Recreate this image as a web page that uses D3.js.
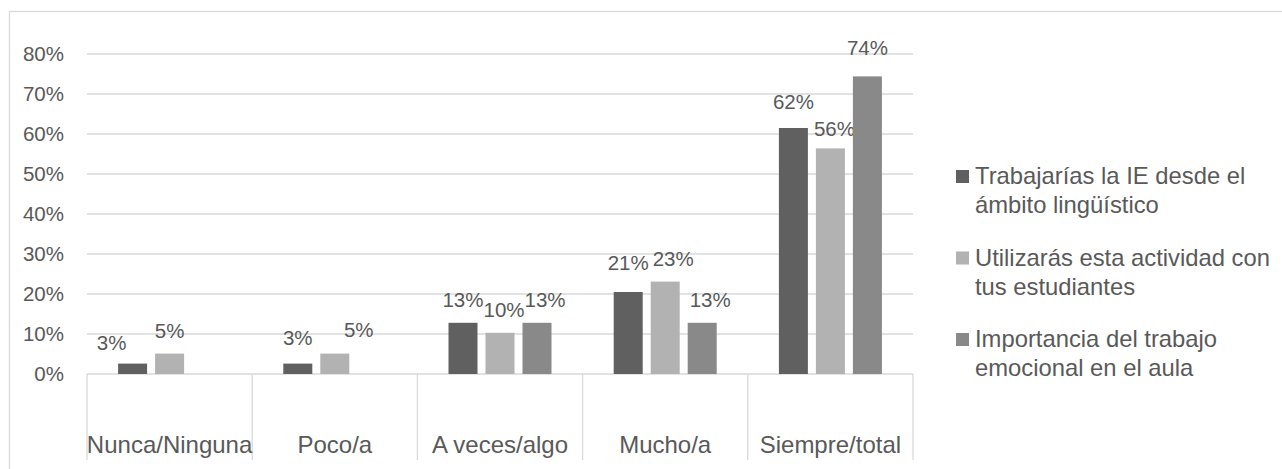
<!DOCTYPE html>
<html>
<head>
<meta charset="utf-8">
<script src="https://cdn.jsdelivr.net/npm/d3@7"></script>
<style>
  body { margin: 0; background: #fff; }
  text { font-family: "Liberation Sans", Arial, sans-serif; fill: #595959; }
</style>
</head>
<body>
<script>
// chart data
var categories = ["Nunca/Ninguna", "Poco/a", "A veces/algo", "Mucho/a", "Siempre/total"];
var seriesNames = [
  ["Trabajarías la IE desde el", "ámbito lingüístico"],
  ["Utilizarás esta actividad con", "tus estudiantes"],
  ["Importancia del trabajo", "emocional en el aula"]
];
var trabajarias = [0.026, 0.026, 0.128, 0.205, 0.615];
var utilizaras  = [0.051, 0.051, 0.103, 0.231, 0.564];
var importancia = [0, 0, 0.128, 0.128, 0.744];
var yTicks = [0, 0.1, 0.2, 0.3, 0.4, 0.5, 0.6, 0.7, 0.8];

var colors = ["#606060", "#b2b2b2", "#898989"];
// small label nudges (Excel moved a few labels aside), key = category-series
var nudge = {
  "0-0": [-21, 2], "1-0": [0, -3], "1-1": [24, -1],
  "2-1": [4, 0], "2-2": [8, 0],
  "3-0": [0, -6], "3-1": [8, 0], "3-2": [8, 0],
  "4-0": [0, -3], "4-1": [4, 4], "4-2": [0, -5]
};

var W = 1282, H = 469;
var plot = { left: 87, right: 913, top: 54, bottom: 374 };

var svg = d3.select("body").append("svg")
  .attr("width", W)
  .attr("height", H);

// outer chart border
svg.append("rect")
  .attr("x", 9.5).attr("y", 11.5)
  .attr("width", W).attr("height", H)
  .attr("fill", "none")
  .attr("stroke", "#d9d9d9")
  .attr("stroke-width", 1.3);

var x0 = d3.scaleBand()
  .domain(categories)
  .range([plot.left, plot.right]);

var groupW = x0.bandwidth() * 0.6235;
var x1 = d3.scaleBand()
  .domain([0, 1, 2])
  .range([0, groupW])
  .paddingInner(8 / 37);

var y = d3.scaleLinear()
  .domain([0, 0.8])
  .range([plot.bottom, plot.top]);

// gridlines
svg.append("g")
  .selectAll("line")
  .data(yTicks)
  .enter().append("line")
  .attr("x1", plot.left)
  .attr("x2", plot.right)
  .attr("y1", function(d) { return y(d); })
  .attr("y2", function(d) { return y(d); })
  .attr("stroke", "#d9d9d9")
  .attr("stroke-width", 1.3);

// y axis labels
var yAxis = d3.axisLeft(y)
  .tickValues(yTicks)
  .tickFormat(d3.format(".0%"))
  .tickSize(0)
  .tickPadding(23);

svg.append("g")
  .attr("transform", "translate(" + plot.left + ",0)")
  .call(yAxis)
  .call(function(g) { g.select(".domain").remove(); })
  .selectAll("text")
  .style("font-size", "20.5px")
  .attr("fill", "#595959")
  .style("font-family", "'Liberation Sans', Arial, sans-serif");

// category separators
var bounds = categories.map(function(c) { return x0(c); }).concat([plot.right]);
svg.append("g")
  .selectAll("line")
  .data(bounds)
  .enter().append("line")
  .attr("x1", function(d) { return d; })
  .attr("x2", function(d) { return d; })
  .attr("y1", plot.bottom)
  .attr("y2", 460)
  .attr("stroke", "#d9d9d9")
  .attr("stroke-width", 1.3);

// category labels
svg.append("g")
  .selectAll("text")
  .data(categories)
  .enter().append("text")
  .attr("x", function(d) { return x0(d) + x0.bandwidth() / 2; })
  .attr("y", 453)
  .attr("text-anchor", "middle")
  .style("font-size", "24px")
  .text(function(d) { return d; });

// bars
var series = [trabajarias, utilizaras, importancia];
var off = (x0.bandwidth() - groupW) / 2;

series.forEach(function(vals, si) {
  var pts = vals.map(function(v, ci) { return { v: v, ci: ci, si: si }; });
  var g = svg.append("g").attr("fill", colors[si]);

  g.selectAll("rect")
    .data(pts)
    .enter().append("rect")
    .attr("x", function(d) { return x0(categories[d.ci]) + off + x1(d.si); })
    .attr("y", function(d) { return y(d.v); })
    .attr("width", x1.bandwidth())
    .attr("height", function(d) { return y(0) - y(d.v); });

  g.selectAll("text")
    .data(pts.filter(function(d) { return d.v > 0; }))
    .enter().append("text")
    .attr("x", function(d) {
      var n = nudge[d.ci + "-" + d.si] || [0, 0];
      return x0(categories[d.ci]) + off + x1(d.si) + x1.bandwidth() / 2 + n[0];
    })
    .attr("y", function(d) {
      var n = nudge[d.ci + "-" + d.si] || [0, 0];
      return y(d.v) - 16 + n[1];
    })
    .attr("text-anchor", "middle")
    .style("font-size", "20.5px")
    .text(function(d) { return Math.round(d.v * 100) + "%"; });
});

// legend
var legend = svg.append("g")
  .selectAll("g")
  .data(seriesNames)
  .enter().append("g")
  .attr("transform", function(d, i) { return "translate(956," + (184 + i * 81.5) + ")"; });

legend.append("rect")
  .attr("x", 0)
  .attr("y", -14)
  .attr("width", 13)
  .attr("height", 13)
  .attr("fill", function(d, i) { return colors[i]; });

legend.append("text")
  .style("font-size", "23.8px")
  .selectAll("tspan")
  .data(function(d) { return d; })
  .enter().append("tspan")
  .attr("x", 19)
  .attr("y", function(d, i) { return i * 29; })
  .text(function(d) { return d; });
</script>
</body>
</html>
